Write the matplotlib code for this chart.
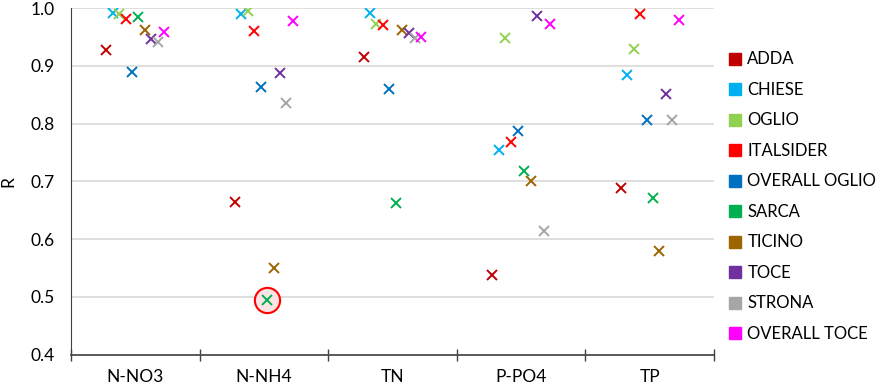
import numpy as np
import matplotlib
matplotlib.use('Agg')
import matplotlib.pyplot as plt
from matplotlib.lines import Line2D

plt.rcParams['font.family'] = ['Lato', 'DejaVu Sans']

categories = ['N-NO3', 'N-NH4', 'TN', 'P-PO4', 'TP']

series_names = ['ADDA', 'CHIESE', 'OGLIO', 'ITALSIDER', 'OVERALL OGLIO',
                'SARCA', 'TICINO', 'TOCE', 'STRONA', 'OVERALL TOCE']
series_colors = ['#C00000', '#00B0F0', '#92D050', '#FF0000', '#0070C0',
                 '#00B050', '#9C6500', '#7030A0', '#A6A6A6', '#FF00FF']

# R values per series, in category order
adda = [0.927, 0.664, 0.915, 0.538, 0.688]
chiese = [0.992, 0.990, 0.992, 0.754, 0.884]
oglio = [0.989, 0.995, 0.972, 0.949, 0.929]
italsider = [0.981, 0.960, 0.971, 0.769, 0.990]
overall_oglio = [0.889, 0.863, 0.860, 0.788, 0.807]
sarca = [0.984, 0.495, 0.662, 0.718, 0.672]
ticino = [0.962, 0.550, 0.962, 0.701, 0.580]
toce = [0.946, 0.888, 0.956, 0.987, 0.851]
strona = [0.942, 0.835, 0.948, 0.614, 0.807]
overall_toce = [0.958, 0.978, 0.950, 0.973, 0.979]

all_series = [adda, chiese, oglio, italsider, overall_oglio,
              sarca, ticino, toce, strona, overall_toce]

fig = plt.figure(figsize=(8.86, 3.88), dpi=100)
ax = fig.add_axes([0.0801, 0.0858, 0.7258, 0.8934])

x = np.arange(len(categories))
offsets = np.linspace(-0.225, 0.225, len(series_names))

# highlight circle around the SARCA N-NH4 point
ax.scatter([x[1] + offsets[5]], [sarca[1]], s=330, facecolor='#FCE4E4',
           edgecolor='#FF0000', linewidth=1.5, zorder=2)

for vals, name, col, off in zip(all_series, series_names, series_colors, offsets):
    ax.plot(x + off, vals, linestyle='none', marker='x', markersize=7.5,
            markeredgewidth=1.4, color=col, label=name, zorder=3)

ax.set_xlim(-0.5, len(categories) - 0.5)
ax.set_ylim(0.4, 1.0)
ax.set_yticks(np.arange(0.4, 1.01, 0.1))
ax.set_yticklabels([f'{v:.1f}' for v in np.arange(0.4, 1.01, 0.1)], fontsize=12.5)
ax.set_xticks(x)
ax.set_xticklabels(categories, fontsize=12.5)
ax.set_xticks(np.arange(-0.5, len(categories), 1.0), minor=True)
ax.tick_params(axis='x', which='major', length=0, pad=10)
ax.tick_params(axis='x', which='minor', length=9, direction='inout', color='#404040', width=1)
ax.tick_params(axis='y', length=0, pad=12)
ax.set_ylabel('R', fontsize=12.5, labelpad=10)

ax.grid(axis='y', color='#D9D9D9', linewidth=1.2)
ax.set_axisbelow(True)
for s in ['top', 'right']:
    ax.spines[s].set_visible(False)
ax.spines['left'].set_color('#404040')
ax.spines['bottom'].set_color('#404040')
ax.spines['bottom'].set_linewidth(1.2)

handles = [Line2D([], [], linestyle='none', marker='s', markersize=9,
                  markerfacecolor=c, markeredgecolor=c) for c in series_colors]
fig.legend(handles, series_names, loc='upper left', bbox_to_anchor=(0.803, 0.906),
           frameon=False, fontsize=12, handletextpad=0.25, labelspacing=0.87,
           handlelength=1.0)

fig.savefig('out.png', dpi=100)
